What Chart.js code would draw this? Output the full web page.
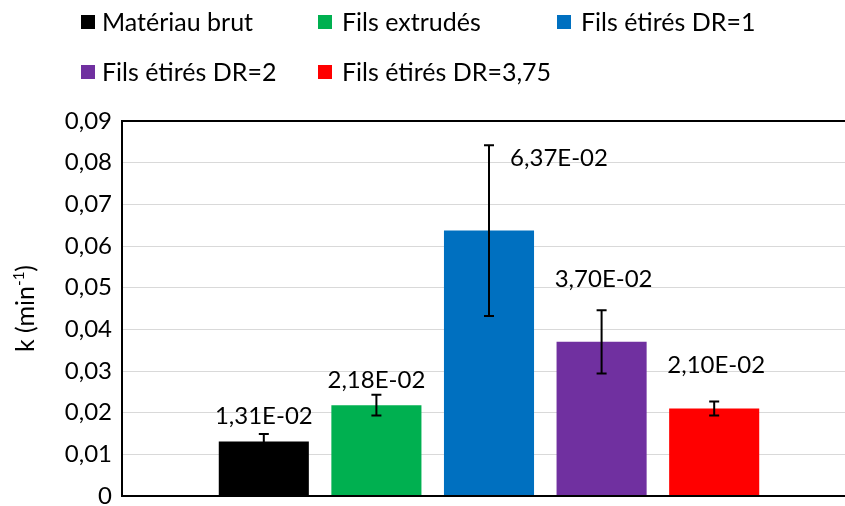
<!DOCTYPE html>
<html>
<head>
<meta charset="utf-8">
<script src="https://cdn.jsdelivr.net/npm/chart.js@4.4.1/dist/chart.umd.min.js"></script>
<style>
  html, body { margin: 0; padding: 0; overflow: hidden; background: #ffffff; }
  #wrap { width: 858px; height: 506px; }
</style>
</head>
<body>
<div id="wrap"><canvas id="chart" width="858" height="506"></canvas></div>
<script>
// Rate constants k (min^-1) per material state, with their standard deviations
const seriesNames = ['Matériau brut', 'Fils extrudés', 'Fils étirés DR=1', 'Fils étirés DR=2', 'Fils étirés DR=3,75'];
const rateValues = [0.0131, 0.0218, 0.0637, 0.0370, 0.0210];
const rateErrors = [0.0018, 0.0025, 0.0205, 0.0076, 0.0017];
const seriesColors = ['#000000', '#00B050', '#0070C0', '#7030A0', '#FF0000'];
const yTickLabels = ['0', '0,01', '0,02', '0,03', '0,04', '0,05', '0,06', '0,07', '0,08', '0,09'];
const yTitleMain = 'k (min';
const yTitleSup = '-1';
const yTitleEnd = ')';

const FONT = 'Lato';
const FS = 24;        // ticks and value labels
const FS_LEGEND = 25; // legend entries
const FS_TITLE = 25;  // axis title

// Scientific notation with a decimal comma, e.g. 1,31E-02
function sciComma(v) {
  const parts = v.toExponential(2).split('e');
  const exp = parseInt(parts[1], 10);
  return parts[0].replace('.', ',') + 'E' + (exp < 0 ? '-' : '+') + String(Math.abs(exp)).padStart(2, '0');
}

// Value label placement relative to the top of each error bar
const labelShift = [
  { dx: 0, dy: -19 },
  { dx: 0, dy: -15 },
  { dx: 70, dy: 12 },
  { dx: 2, dy: -32 },
  { dx: 2, dy: -37 }
];

// Legend layout (two rows)
const legendSlots = [
  { box: 81, text: 102, base: 30.5 },
  { box: 318, text: 342, base: 30.5 },
  { box: 557, text: 581, base: 30.5 },
  { box: 81, text: 102, base: 80.5 },
  { box: 318, text: 342, base: 80.5 }
];

const marksPlugin = {
  id: 'marksPlugin',
  afterDatasetsDraw(chart) {
    const ctx = chart.ctx;
    const ys = chart.scales.y;
    ctx.save();
    // error bars
    ctx.strokeStyle = '#000000';
    ctx.lineWidth = 2;
    chart.data.datasets.forEach((ds, i) => {
      const bar = chart.getDatasetMeta(i).data[0];
      const v = ds.data[0];
      const e = rateErrors[i];
      const top = ys.getPixelForValue(v + e);
      const bot = ys.getPixelForValue(v - e);
      ctx.beginPath();
      ctx.moveTo(bar.x, top); ctx.lineTo(bar.x, bot);
      ctx.moveTo(bar.x - 5, top); ctx.lineTo(bar.x + 5, top);
      ctx.moveTo(bar.x - 5, bot); ctx.lineTo(bar.x + 5, bot);
      ctx.stroke();
    });
    // value labels
    ctx.fillStyle = '#000000';
    ctx.font = FS + 'px ' + FONT;
    ctx.textAlign = 'center';
    ctx.textBaseline = 'alphabetic';
    chart.data.datasets.forEach((ds, i) => {
      const bar = chart.getDatasetMeta(i).data[0];
      const v = ds.data[0];
      const top = ys.getPixelForValue(v + rateErrors[i]);
      const s = labelShift[i];
      ctx.fillText(sciComma(v), bar.x + s.dx, top + s.dy + FS * 0.36);
    });
    // plot frame
    const a = chart.chartArea;
    ctx.strokeStyle = '#000000';
    ctx.lineWidth = 2;
    ctx.strokeRect(a.left, a.top, a.right - a.left, a.bottom - a.top);
    ctx.restore();
  },
  afterDraw(chart) {
    const ctx = chart.ctx;
    ctx.save();
    // legend
    ctx.font = FS_LEGEND + 'px ' + FONT;
    ctx.textAlign = 'left';
    ctx.textBaseline = 'alphabetic';
    chart.data.datasets.forEach((ds, i) => {
      const s = legendSlots[i];
      ctx.fillStyle = ds.backgroundColor;
      ctx.fillRect(s.box, s.base - 15.5, 14, 14);
      ctx.fillStyle = '#000000';
      ctx.fillText(ds.label, s.text, s.base);
    });
    // y axis title with superscript
    const a = chart.chartArea;
    const cy = (a.top + a.bottom) / 2;
    ctx.translate(25, cy);
    ctx.rotate(-Math.PI / 2);
    const supSize = Math.round(FS_TITLE * 0.6);
    ctx.font = FS_TITLE + 'px ' + FONT;
    const w1 = ctx.measureText(yTitleMain).width;
    const w3 = ctx.measureText(yTitleEnd).width;
    ctx.font = supSize + 'px ' + FONT;
    const w2 = ctx.measureText(yTitleSup).width;
    let x = -(w1 + w2 + w3) / 2;
    const base = FS_TITLE * 0.36;
    ctx.fillStyle = '#000000';
    ctx.font = FS_TITLE + 'px ' + FONT;
    ctx.fillText(yTitleMain, x, base);
    x += w1;
    ctx.font = supSize + 'px ' + FONT;
    ctx.fillText(yTitleSup, x, base - FS_TITLE * 0.42);
    x += w2;
    ctx.font = FS_TITLE + 'px ' + FONT;
    ctx.fillText(yTitleEnd, x, base);
    ctx.restore();
  }
};

function draw() {
  new Chart(document.getElementById('chart'), {
    type: 'bar',
    data: {
      labels: [''],
      datasets: seriesNames.map((name, i) => ({
        label: name,
        data: [rateValues[i]],
        backgroundColor: seriesColors[i],
        borderWidth: 0,
        categoryPercentage: 0.767,
        barPercentage: 0.8
      }))
    },
    options: {
      responsive: false,
      animation: false,
      layout: { padding: { top: 121, right: 2, bottom: 10, left: 0 } },
      plugins: {
        legend: { display: false },
        tooltip: { enabled: false },
        title: { display: false }
      },
      scales: {
        x: { display: false },
        y: {
          min: 0,
          max: 0.09,
          border: { display: false },
          grid: { color: '#d9d9d9', lineWidth: 1, drawTicks: false },
          ticks: {
            stepSize: 0.01,
            padding: 10,
            color: '#000000',
            font: { family: FONT, size: FS },
            callback: (v, idx) => yTickLabels[idx]
          },
          afterFit(scale) {
            scale.width = 122;
            scale.paddingTop = 0;
            scale.paddingBottom = 0;
          }
        }
      }
    },
    plugins: [marksPlugin]
  });
}

if (document.fonts && document.fonts.load) {
  document.fonts.load(FS + 'px ' + FONT).then(draw, draw);
} else {
  draw();
}
</script>
</body>
</html>
